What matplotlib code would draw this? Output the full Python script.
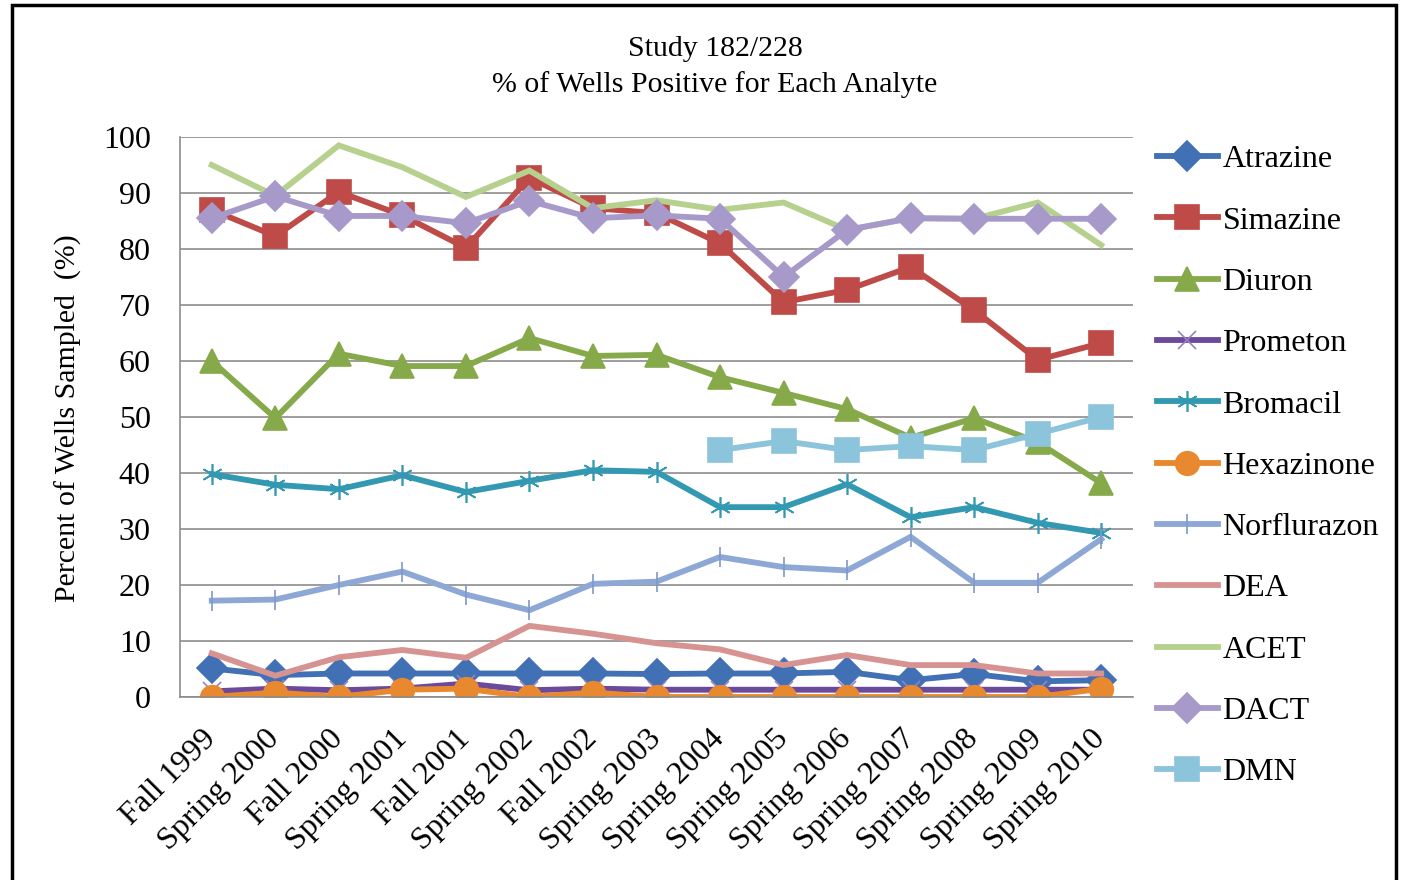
import numpy as np
import matplotlib
matplotlib.use('Agg')
import matplotlib.pyplot as plt
from matplotlib.patches import Rectangle

plt.rcParams['font.family'] = ['Liberation Serif', 'DejaVu Serif']

seasons = ['Fall 1999', 'Spring 2000', 'Fall 2000', 'Spring 2001', 'Fall 2001',
           'Spring 2002', 'Fall 2002', 'Spring 2003', 'Spring 2004', 'Spring 2005',
           'Spring 2006', 'Spring 2007', 'Spring 2008', 'Spring 2009', 'Spring 2010']
nan = np.nan
atrazine = [5.1, 3.9, 4.2, 4.2, 4.2, 4.2, 4.2, 4.1, 4.2, 4.2, 4.5, 3.0, 4.1, 2.8, 3.0]
simazine = [87, 82.3, 90.2, 86, 80.2, 92.7, 87.3, 86.4, 81, 70.5, 72.7, 76.8, 69.1, 60.2, 63.2]
diuron = [60, 49.8, 61.3, 59.1, 59.1, 64.1, 60.9, 61.1, 57.1, 54.3, 51.4, 46.3, 49.8, 45.5, 38.2]
prometon = [1.0, 1.5, 1.2, 1.5, 2.4, 1.2, 1.5, 1.3, 1.3, 1.3, 1.3, 1.3, 1.3, 1.3, 1.3]
bromacil = [39.8, 37.9, 37.1, 39.6, 36.6, 38.6, 40.5, 40.2, 33.9, 33.9, 38, 32.1, 33.9, 31.1, 29.3]
hexazinone = [0, 0.8, 0, 1.3, 1.5, 0, 0.8, 0, 0, 0, 0, 0, 0, 0, 1.5]
norflurazon = [17.2, 17.4, 20, 22.4, 18.3, 15.5, 20.2, 20.6, 25, 23.2, 22.6, 28.6, 20.4, 20.4, 28.2]
dea = [7.8, 3.8, 7.1, 8.4, 7.0, 12.7, 11.3, 9.6, 8.5, 5.7, 7.5, 5.7, 5.7, 4.2, 4.2]
acet = [95, 89.5, 98.5, 94.6, 89.3, 94, 87.3, 88.7, 87, 88.3, 83.4, 85.5, 85.4, 88.3, 80.7]
dact = [85.5, 89.4, 85.9, 85.9, 84.6, 88.6, 85.5, 86, 85.4, 75, 83.4, 85.5, 85.4, 85.4, 85.4]
dmn = [nan, nan, nan, nan, nan, nan, nan, nan, 44.1, 45.7, 44.1, 44.8, 44.1, 47, 50]

fig = plt.figure(figsize=(14.01, 8.8), dpi=100)
ax = fig.add_axes([180/1401, 1-697/880, 953/1401, 560/880])

x = np.arange(len(seasons))
lw = 4.2
# name, values, line colour, marker, marker colour, marker size
series = [
    ('Atrazine', atrazine, '#4170B4', 'D', '#4170B4', 15),
    ('Simazine', simazine, '#BE4B48', 's', '#BE4B48', 17),
    ('Diuron', diuron, '#86A94A', '^', '#86A94A', 17),
    ('Prometon', prometon, '#6B4A9B', 'x', '#9A80C0', 13),
    ('Bromacil', bromacil, '#3399B2', (6, 2, 0), '#3399B2', 15),
    ('Hexazinone', hexazinone, '#E9892F', 'o', '#E9892F', 17),
    ('Norflurazon', norflurazon, '#8EA8D6', '|', '#7F98C8', 15),
    ('DEA', dea, '#D79391', None, None, 0),
    ('ACET', acet, '#B6D18E', None, None, 0),
    ('DACT', dact, '#A799C9', 'D', '#A799C9', 15),
    ('DMN', dmn, '#8CC4DC', 's', '#8CC4DC', 17),
]
for name, vals, c, m, mc, ms in series:
    ax.plot(x, vals, color=c, lw=lw, marker=m, markersize=ms,
            markerfacecolor=mc, markeredgecolor=mc, markeredgewidth=1.2,
            label=name, solid_joinstyle='miter')

ax.set_xlim(-0.5, 14.5)
ax.set_ylim(0, 100)
ax.set_yticks(range(0, 101, 10))
ax.grid(axis='y', color='#8C8C8C', lw=1.2)
ax.set_axisbelow(True)
for s in ['top', 'right']:
    ax.spines[s].set_visible(False)
ax.spines['left'].set_color('#8C8C8C')
ax.spines['bottom'].set_color('#8C8C8C')
ax.spines['left'].set_linewidth(1.2)
ax.spines['bottom'].set_linewidth(1.2)
ax.tick_params(length=0, labelsize=23)
ax.tick_params(axis='y', pad=21)
ax.tick_params(axis='x', pad=27)
ax.set_xticks(x)
ax.set_xticklabels(seasons, rotation=45, ha='right', va='center', rotation_mode='anchor')

fig.text(68/1401, 1-418/880, 'Percent of Wells Sampled  (%)', rotation=90,
         ha='center', va='center', fontsize=21.5)
fig.text(715/1401, 1-67/880, 'Study 182/228\n% of Wells Positive for Each Analyte',
         ha='center', va='center', fontsize=21.5, linespacing=1.45)

fig.legend(loc='upper left', bbox_to_anchor=(1157/1401, 1-145/880), frameon=False,
           fontsize=23, handlelength=1.9, handletextpad=0.15, labelspacing=1.0,
           borderpad=0, borderaxespad=0)

fig.patches.append(Rectangle((12/1401, -0.1), (1396-12)/1401, 1.1-5/880,
                             transform=fig.transFigure, fill=False, ec='black', lw=2.5))

fig.savefig('out.png', dpi=100)
